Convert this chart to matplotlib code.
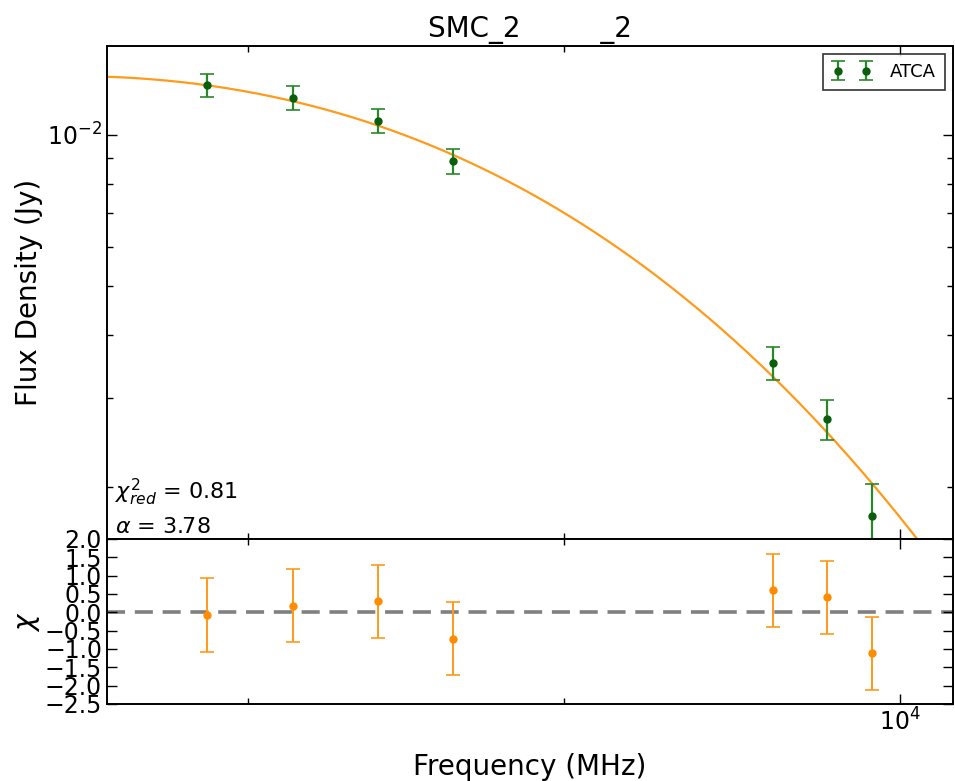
import numpy as np
import matplotlib
matplotlib.use('Agg')
import matplotlib.pyplot as plt
from matplotlib.ticker import FixedLocator, NullFormatter, LogLocator, MultipleLocator

freq = [4786, 5248, 5745, 6220, 8740, 9252, 9711]          # MHz
flux = [0.01257, 0.01186, 0.01068, 0.00888, 0.003526, 0.002725, 0.001746]   # Jy
flux_err = [0.00065, 0.00064, 0.0006, 0.0005, 0.000265, 0.000245, 0.00028]
chi = [-0.07, 0.18, 0.30, -0.72, 0.60, 0.41, -1.12]
chi_err = [1, 1, 1, 1, 1, 1, 1]

# fitted model parameters
alpha = 3.78
nu_c = 1095.0
amp = 0.002672
chi2_red = 0.81

xlim = (4305, 10585)
ylim = (0.001573, 0.01505)

fig = plt.figure(figsize=(9.55, 7.81), dpi=100)
ax1 = fig.add_axes([0.112, 0.3099, 0.886, 0.6316])
ax2 = fig.add_axes([0.112, 0.0986, 0.886, 0.2113])

# top panel: spectrum + fit
nu = np.logspace(np.log10(xlim[0]), np.log10(xlim[1]), 400)
model = amp * (nu / 1000.0) ** alpha * np.exp(-nu / nu_c)
ax1.plot(nu, model, color='#ff9a1a', lw=1.6, zorder=1)
ax1.errorbar(freq, flux, yerr=flux_err, fmt='o', color='#0b5e0b', ms=5,
             ecolor='#2a882a', elinewidth=1.6, capsize=5, capthick=1.2,
             label='ATCA', zorder=2)
ax1.set_xscale('log')
ax1.set_yscale('log')
ax1.set_xlim(xlim)
ax1.set_ylim(ylim)
ax1.set_ylabel('Flux Density (Jy)', fontsize=20, labelpad=3)
ax1.set_title('SMC_2         _2', fontsize=20, pad=6)
ax1.text(0.0095, 0.062, r'$\chi^2_{red}$ = %.2f' % chi2_red, transform=ax1.transAxes,
         fontsize=16, va='bottom', ha='left')
ax1.text(0.0095, 0.005, r'$\alpha$ = %.2f' % alpha, transform=ax1.transAxes,
         fontsize=16, va='bottom', ha='left')
leg = ax1.legend(loc='upper right', numpoints=2, fontsize=13, fancybox=False,
                 borderaxespad=0.45, handlelength=2.2, handletextpad=1.0,
                 borderpad=0.5)
leg.get_frame().set_edgecolor('black')
leg.get_frame().set_linewidth(1.2)

# bottom panel: residuals
ax2.axhline(0, color='gray', ls=(0, (5, 2.7)), lw=2.6, zorder=1)
ax2.errorbar(freq, chi, yerr=chi_err, fmt='o', color='#ff8c00', ms=5,
             ecolor='#ff9a1a', elinewidth=1.4, capsize=5, capthick=1.2, zorder=2)
ax2.set_xscale('log')
ax2.set_xlim(xlim)
ax2.set_ylim(-2.5, 2.0)
ax2.yaxis.set_major_locator(MultipleLocator(0.5))
ax2.set_ylabel(r'$\chi$', fontsize=20, labelpad=2)
ax2.set_xlabel('Frequency (MHz)', fontsize=20, labelpad=12)

for ax in (ax1, ax2):
    ax.xaxis.set_major_locator(LogLocator(base=10))
    ax.xaxis.set_minor_locator(FixedLocator([5000, 7000]))
    ax.xaxis.set_minor_formatter(NullFormatter())
    ax.tick_params(which='both', direction='in', top=True, right=True, labelsize=17)
    ax.tick_params(which='major', length=7, width=1)
    ax.tick_params(which='minor', length=4, width=1)
    for s in ax.spines.values():
        s.set_linewidth(1.4)
ax1.yaxis.set_minor_formatter(NullFormatter())
ax1.tick_params(axis='x', labelbottom=False)

fig.savefig('out.png', dpi=100)
